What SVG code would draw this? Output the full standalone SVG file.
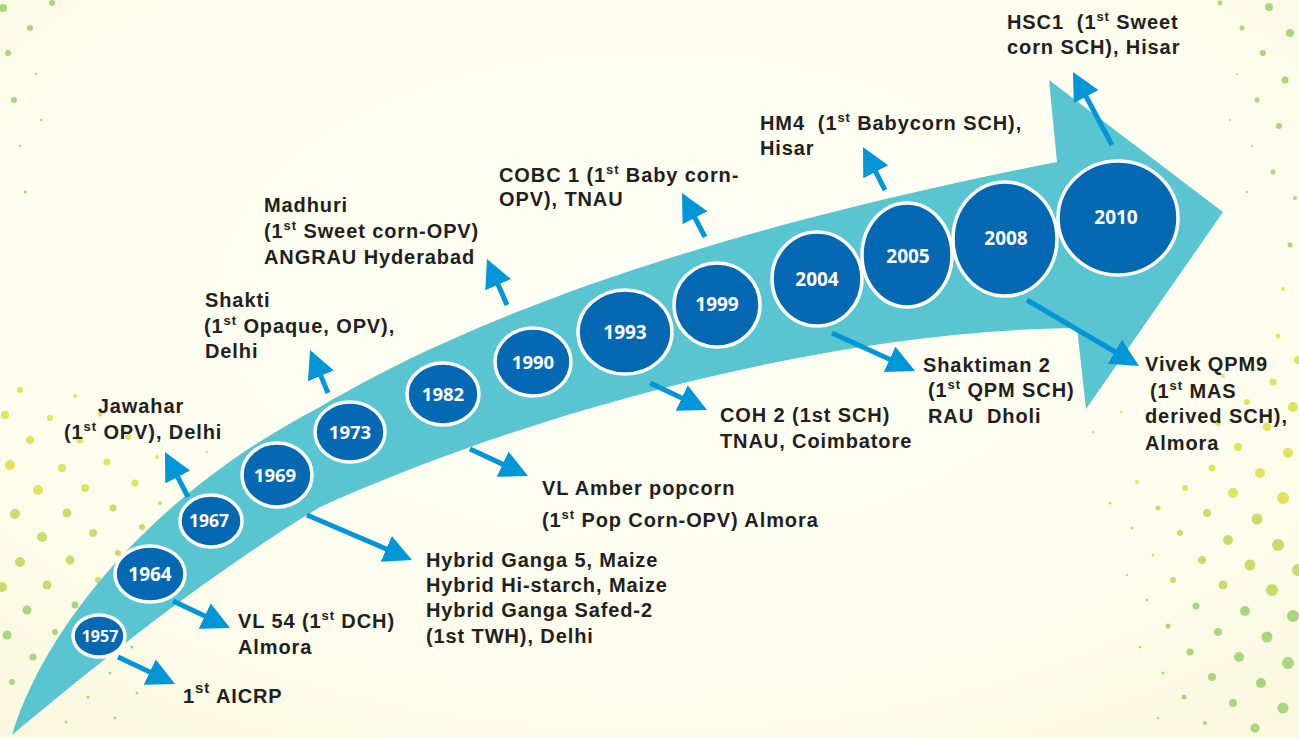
<svg xmlns="http://www.w3.org/2000/svg" width="1299" height="738" viewBox="0 0 1299 738">
<defs>
<radialGradient id="bg" cx="0.5" cy="0.4" r="0.75">
<stop offset="0" stop-color="#FFFFF7"/>
<stop offset="0.7" stop-color="#FDFCEC"/>
<stop offset="1" stop-color="#FAF8DE"/>
</radialGradient>
<marker id="ah" viewBox="0 0 10 10" refX="3" refY="5" markerWidth="5.6" markerHeight="5.6" orient="auto">
<path d="M0,0 L10,5 L0,10 Z" fill="#0096D8"/>
</marker>
<style>
.yr{fill:#0568B3;stroke:#FFFFFF;stroke-width:3.5}
.yt{font-family:"Open Sans","DejaVu Sans",sans-serif;font-weight:700;fill:#FFFFFF;text-anchor:middle}
.lb{font-family:"Liberation Sans",Arial,sans-serif;font-weight:700;font-size:20px;letter-spacing:0.9px;fill:#231F20}
.cn{stroke:#0096D8;stroke-width:5;fill:none;marker-end:url(#ah)}
.dy{fill:#E2E35C}
.dg{fill:#C8DC6E}
.dl{fill:#A9D57C}
</style>
</defs>
<rect width="1299" height="738" fill="url(#bg)"/>
<g id="dots">
<g class="dl">
<circle cx="3" cy="8" r="4"/><circle cx="52" cy="3" r="3"/><circle cx="30" cy="28" r="3"/><circle cx="8" cy="53" r="3"/><circle cx="36" cy="74" r="1.2"/><circle cx="14" cy="100" r="3"/><circle cx="41" cy="120" r="1.2"/><circle cx="20" cy="146" r="1.2"/><circle cx="25" cy="192" r="1.5"/>
<circle cx="1220" cy="3" r="2.5"/><circle cx="1269" cy="7" r="4"/><circle cx="1242" cy="28" r="2.5"/><circle cx="1290" cy="33" r="4"/><circle cx="1263" cy="53" r="3"/><circle cx="1237" cy="74" r="1"/><circle cx="1285" cy="80" r="3.5"/><circle cx="1257" cy="100" r="2.5"/><circle cx="1230" cy="120" r="1"/><circle cx="1279" cy="126" r="3"/><circle cx="1252" cy="146" r="1"/><circle cx="1273" cy="172" r="2.5"/><circle cx="1247" cy="192" r="1"/><circle cx="1295" cy="198" r="2"/><circle cx="1290" cy="245" r="2.5"/>
</g>
<g class="dy">
<circle cx="20" cy="390" r="3"/><circle cx="75" cy="396" r="2"/><circle cx="5" cy="415" r="4"/><circle cx="50" cy="418" r="3"/><circle cx="100" cy="414" r="2.5"/>
<circle cx="30" cy="440" r="4"/><circle cx="80" cy="440" r="3.5"/><circle cx="128" cy="437" r="3"/><circle cx="207" cy="452" r="1.5"/>
<circle cx="10" cy="465" r="5"/><circle cx="62" cy="468" r="4"/><circle cx="107" cy="462" r="3.5"/><circle cx="157" cy="457" r="2"/>
<circle cx="38" cy="490" r="5"/><circle cx="85" cy="488" r="4"/><circle cx="135" cy="483" r="3.5"/>
<circle cx="1283" cy="289" r="2"/><circle cx="1278" cy="336" r="2.5"/><circle cx="1298" cy="360" r="4"/><circle cx="1273" cy="382" r="3.5"/><circle cx="1223" cy="376" r="2"/><circle cx="1247" cy="402" r="3"/><circle cx="1293" cy="407" r="5"/><circle cx="1267" cy="427" r="4"/><circle cx="1218" cy="423" r="3"/><circle cx="1238" cy="447" r="4"/><circle cx="1288" cy="453" r="5"/><circle cx="1212" cy="468" r="3.5"/><circle cx="1260" cy="473" r="5"/><circle cx="1185" cy="488" r="3"/><circle cx="1233" cy="493" r="5"/><circle cx="1283" cy="498" r="6"/><circle cx="1121" cy="412" r="1.5"/><circle cx="1093" cy="432" r="1.5"/><circle cx="1137" cy="482" r="2"/>
</g>
<g class="dg">
<circle cx="15" cy="514" r="5"/><circle cx="67" cy="513" r="4.5"/><circle cx="113" cy="508" r="3.5"/><circle cx="160" cy="503" r="2"/>
<circle cx="42" cy="537" r="5"/><circle cx="93" cy="533" r="4"/><circle cx="142" cy="527" r="3"/>
<circle cx="20" cy="562" r="5"/><circle cx="70" cy="560" r="4.5"/><circle cx="118" cy="553" r="3"/>
<circle cx="2" cy="587" r="5"/><circle cx="47" cy="585" r="4.5"/><circle cx="98" cy="580" r="3"/>
<circle cx="1207" cy="513" r="4"/><circle cx="1257" cy="519" r="5.5"/><circle cx="1158" cy="508" r="2.5"/><circle cx="1110" cy="503" r="1.5"/><circle cx="1180" cy="533" r="3"/><circle cx="1228" cy="540" r="5"/><circle cx="1278" cy="545" r="6"/><circle cx="1132" cy="528" r="1.5"/><circle cx="1202" cy="560" r="4"/><circle cx="1250" cy="565" r="5.5"/><circle cx="1298" cy="570" r="6"/><circle cx="1153" cy="555" r="1.5"/><circle cx="1173" cy="580" r="3"/><circle cx="1223" cy="585" r="4.5"/><circle cx="1272" cy="590" r="6"/><circle cx="1127" cy="575" r="1.2"/>
</g>
<g class="dl">
<circle cx="27" cy="610" r="4.5"/><circle cx="75" cy="605" r="3.5"/><circle cx="7" cy="635" r="4.5"/><circle cx="55" cy="632" r="3"/><circle cx="33" cy="657" r="3.5"/><circle cx="12" cy="682" r="3"/><circle cx="132" cy="647" r="1.5"/><circle cx="110" cy="673" r="1.5"/><circle cx="88" cy="697" r="1.5"/><circle cx="137" cy="693" r="1.5"/><circle cx="115" cy="718" r="1.5"/><circle cx="66" cy="722" r="1.5"/>
<circle cx="1196" cy="606" r="3.5"/><circle cx="1245" cy="611" r="5"/><circle cx="1293" cy="616" r="6"/><circle cx="1147" cy="600" r="1.5"/><circle cx="1168" cy="626" r="2.5"/><circle cx="1218" cy="632" r="4"/><circle cx="1267" cy="637" r="5.5"/><circle cx="1140" cy="647" r="1.2"/><circle cx="1190" cy="652" r="3.5"/><circle cx="1239" cy="657" r="5"/><circle cx="1288" cy="663" r="6"/><circle cx="1163" cy="673" r="1.5"/><circle cx="1212" cy="677" r="4"/><circle cx="1261" cy="683" r="5"/><circle cx="1184" cy="697" r="2.5"/><circle cx="1233" cy="703" r="4"/><circle cx="1283" cy="708" r="5.5"/><circle cx="1158" cy="718" r="1.2"/><circle cx="1205" cy="723" r="2"/><circle cx="1255" cy="728" r="4.5"/>
</g>
</g>
<path id="timeline-arrow" d="M12,735 C40,640 140,500 320,407 C470,318 700,232 1057,162 L1049,80 L1223,212 L1086,409 L1077,328 C850,330 560,400 320,507 C200,580 90,670 12,735 Z" fill="#58C5D1"/>
<g id="connectors">
<path class="cn" d="M118,657 L157.3,675.6"/>
<path class="cn" d="M173,601 L212.3,619.6"/>
<path class="cn" d="M188,497 L173.9,469.5"/>
<path class="cn" d="M307,515 L394,552.3"/>
<path class="cn" d="M328,393 L317.6,368.1"/>
<path class="cn" d="M470,449 L510.2,467.7"/>
<path class="cn" d="M507,305 L494.8,277"/>
<path class="cn" d="M650,383 L689.3,401.6"/>
<path class="cn" d="M705,237 L691.1,210.4"/>
<path class="cn" d="M832,333 L897.2,362.8"/>
<path class="cn" d="M885,190 L871.9,164.4"/>
<path class="cn" d="M1027,300 L1122.1,356"/>
<path class="cn" d="M1112,145 L1082.2,89.3"/>
</g>
<g id="y1957"><ellipse class="yr" cx="99" cy="636" rx="26" ry="21"/><text class="yt" x="100" y="642" font-size="16">1957</text></g>
<g id="y1964"><ellipse class="yr" cx="150" cy="574" rx="35" ry="28"/><text class="yt" x="150" y="581" font-size="19">1964</text></g>
<g id="y1967"><ellipse class="yr" cx="211" cy="521" rx="31" ry="26"/><text class="yt" x="209" y="527" font-size="17.5">1967</text></g>
<g id="y1969"><ellipse class="yr" cx="277" cy="475" rx="35" ry="32"/><text class="yt" x="275" y="482" font-size="18.5">1969</text></g>
<g id="y1973"><ellipse class="yr" cx="350" cy="432" rx="35" ry="30"/><text class="yt" x="350" y="439" font-size="18.5">1973</text></g>
<g id="y1982"><ellipse class="yr" cx="443" cy="394" rx="36" ry="31"/><text class="yt" x="443" y="401" font-size="18.5">1982</text></g>
<g id="y1990"><ellipse class="yr" cx="533" cy="362" rx="38" ry="34"/><text class="yt" x="533" y="369" font-size="18.5">1990</text></g>
<g id="y1993"><ellipse class="yr" cx="625" cy="332" rx="47" ry="42"/><text class="yt" x="625" y="339" font-size="19">1993</text></g>
<g id="y1999"><ellipse class="yr" cx="717" cy="305" rx="43" ry="42"/><text class="yt" x="717" y="311" font-size="19">1999</text></g>
<g id="y2004"><ellipse class="yr" cx="817" cy="279" rx="45" ry="47"/><text class="yt" x="817" y="286" font-size="19">2004</text></g>
<g id="y2005"><ellipse class="yr" cx="907" cy="255" rx="45" ry="52"/><text class="yt" x="908" y="263" font-size="19">2005</text></g>
<g id="y2008"><ellipse class="yr" cx="1005" cy="239" rx="52" ry="57"/><text class="yt" x="1006" y="245" font-size="19">2008</text></g>
<g id="y2010"><ellipse class="yr" cx="1118" cy="218" rx="60" ry="57"/><text class="yt" x="1116" y="224" font-size="19">2010</text></g>
<g id="l1957"><text class="lb" x="183" y="703" font-size="24" letter-spacing="0.5">1<tspan font-size="15" dy="-10">st</tspan><tspan dy="10"> AICRP</tspan></text></g>
<g id="l1964"><text class="lb" x="238" y="628">VL 54 (1<tspan font-size="13" dy="-8">st</tspan><tspan dy="8"> DCH)</tspan></text><text class="lb" x="238" y="654">Almora</text></g>
<g id="l1967"><text class="lb" x="141" y="413" text-anchor="middle">Jawahar</text><text class="lb" x="64" y="439">(1<tspan font-size="13" dy="-8">st</tspan><tspan dy="8"> OPV), Delhi</tspan></text></g>
<g id="l1969"><text class="lb" x="426" y="567">Hybrid Ganga 5, Maize</text><text class="lb" x="426" y="592">Hybrid Hi-starch, Maize</text><text class="lb" x="426" y="617">Hybrid Ganga Safed-2</text><text class="lb" x="426" y="643">(1st TWH), Delhi</text></g>
<g id="l1973"><text class="lb" x="205" y="307">Shakti</text><text class="lb" x="204" y="333">(1<tspan font-size="13" dy="-8">st</tspan><tspan dy="8"> Opaque, OPV),</tspan></text><text class="lb" x="205" y="358">Delhi</text></g>
<g id="l1982"><text class="lb" x="542" y="495">VL Amber popcorn</text><text class="lb" x="542" y="527">(1<tspan font-size="13" dy="-8">st</tspan><tspan dy="8"> Pop Corn-OPV) Almora</tspan></text></g>
<g id="l1990"><text class="lb" x="264" y="212">Madhuri</text><text class="lb" x="264" y="238">(1<tspan font-size="13" dy="-8">st</tspan><tspan dy="8"> Sweet corn-OPV)</tspan></text><text class="lb" x="264" y="264">ANGRAU Hyderabad</text></g>
<g id="l1993"><text class="lb" x="720" y="422">COH 2 (1st SCH)</text><text class="lb" x="720" y="448">TNAU, Coimbatore</text></g>
<g id="l1999"><text class="lb" x="499" y="182">COBC 1 (1<tspan font-size="13" dy="-8">st</tspan><tspan dy="8"> Baby corn-</tspan></text><text class="lb" x="499" y="206">OPV), TNAU</text></g>
<g id="l2004"><text class="lb" x="923" y="372">Shaktiman 2</text><text class="lb" x="928" y="397">(1<tspan font-size="13" dy="-8">st</tspan><tspan dy="8"> QPM SCH)</tspan></text><text class="lb" x="928" y="423" xml:space="preserve">RAU  Dholi</text></g>
<g id="l2005"><text class="lb" x="760" y="130" xml:space="preserve">HM4  (1<tspan font-size="13" dy="-8">st</tspan><tspan dy="8"> Babycorn SCH),</tspan></text><text class="lb" x="760" y="155">Hisar</text></g>
<g id="l2008"><text class="lb" x="1145" y="371">Vivek QPM9</text><text class="lb" x="1150" y="398">(1<tspan font-size="13" dy="-8">st</tspan><tspan dy="8"> MAS</tspan></text><text class="lb" x="1145" y="423">derived SCH),</text><text class="lb" x="1145" y="450">Almora</text></g>
<g id="l2010"><text class="lb" x="1007" y="29" xml:space="preserve">HSC1  (1<tspan font-size="13" dy="-8">st</tspan><tspan dy="8"> Sweet</tspan></text><text class="lb" x="1007" y="54">corn SCH), Hisar</text></g>
</svg>
